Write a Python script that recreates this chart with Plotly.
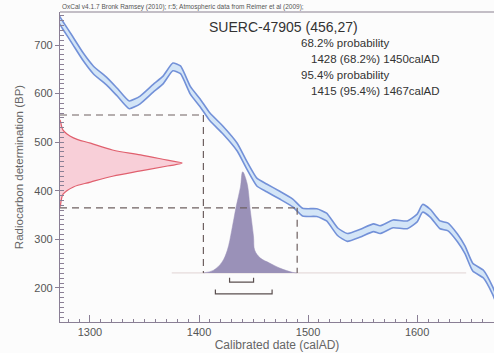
import plotly.graph_objects as go

# ---------------- data ----------------
# calibration curve (calAD, BP)
cal_year = [1272, 1275, 1284, 1294, 1303, 1316, 1325, 1336, 1346, 1358, 1367, 1376, 1383,
            1392, 1401, 1410, 1422, 1435, 1444, 1453, 1462, 1474, 1486, 1495, 1508, 1517,
            1527, 1536, 1548, 1560, 1566, 1578, 1591, 1600, 1605, 1612, 1621, 1628, 1637,
            1644, 1651, 1661, 1669, 1671]
cal_bp = [752, 741, 710, 675, 649, 624, 603, 577, 587, 611, 628, 655, 649,
          607, 581, 552, 525, 490, 452, 418, 406, 391, 375, 356, 355, 346,
          316, 304, 313, 324, 320, 332, 330, 344, 364, 354, 330, 326, 303,
          278, 243, 228, 196, 185]
cal_err = [8] * len(cal_year)

# measured radiocarbon date distribution (BP vs relative density)
rc_bp = [546, 525, 509, 498, 484, 474, 463, 457, 451, 441, 430, 418, 408, 393, 367]
rc_dens = [0.0, 0.025, 0.11, 0.25, 0.43, 0.66, 0.88, 1.0, 0.88, 0.66, 0.43, 0.25, 0.11, 0.025, 0.0]

# calibrated distribution (calAD vs relative probability)
post_year = [1404, 1413, 1421, 1426, 1430, 1434, 1438, 1440, 1444, 1447, 1450, 1451,
             1456, 1465, 1474, 1486, 1490]
post_prob = [0.0, 0.025, 0.106, 0.226, 0.423, 0.654, 0.851, 1.0, 0.889, 0.620, 0.356,
             0.226, 0.149, 0.096, 0.048, 0.005, 0.0]

range68 = [1428, 1450]
range95 = [1415, 1467]
dash_bp = [556, 365]
dash_year = [1404, 1490]

title_txt = "SUERC-47905 (456,27)"
info_lines = ["68.2% probability", "1428 (68.2%) 1450calAD",
              "95.4% probability", "1415 (95.4%) 1467calAD"]
header_txt = "OxCal v4.1.7 Bronk Ramsey (2010); r:5; Atmospheric data from Reimer et al (2009);"

# ---------------- figure ----------------
X0, X1 = 1272.5, 1670.5
Y0, Y1 = 130, 768
BASE = 231
POST_H = 208
RC_W = 112

fig = go.Figure()

# calibration band
upper = [b + e for b, e in zip(cal_bp, cal_err)]
lower = [b - e for b, e in zip(cal_bp, cal_err)]
fig.add_trace(go.Scatter(x=cal_year, y=upper, mode="lines",
                         line=dict(color="#7391d8", width=1.6, shape="spline", smoothing=0.5),
                         hoverinfo="skip"))
fig.add_trace(go.Scatter(x=cal_year, y=lower, mode="lines", fill="tonexty",
                         fillcolor="#d3e5f7",
                         line=dict(color="#7391d8", width=1.6, shape="spline", smoothing=0.5),
                         hoverinfo="skip"))

# faint baseline
fig.add_trace(go.Scatter(x=[1375, 1645], y=[BASE, BASE], mode="lines",
                         line=dict(color="#e0d4d4", width=1), hoverinfo="skip"))

# radiocarbon distribution on y axis
rc_x = [X0 + d * RC_W for d in rc_dens]
fig.add_trace(go.Scatter(x=rc_x + [X0], y=rc_bp + [rc_bp[0]], mode="lines",
                         fill="toself", fillcolor="#f8cfd8",
                         line=dict(color="#e0606e", width=1.2, shape="spline"),
                         hoverinfo="skip"))

# calibrated distribution
post_y = [BASE + p * POST_H for p in post_prob]
fig.add_trace(go.Scatter(x=post_year, y=post_y, mode="lines", fill="toself",
                         fillcolor="#9a91b8",
                         line=dict(color="#9a91b8", width=0.5, shape="spline"),
                         hoverinfo="skip"))

# dashed lines
dcol = "#6e6060"
dash = "7px,5px"
for bp, yr in zip(dash_bp, dash_year):
    fig.add_trace(go.Scatter(x=[X0, yr], y=[bp, bp], mode="lines",
                             line=dict(color=dcol, width=1.2, dash=dash), hoverinfo="skip"))
    fig.add_trace(go.Scatter(x=[yr, yr], y=[bp, BASE], mode="lines",
                             line=dict(color=dcol, width=1.2, dash=dash), hoverinfo="skip"))

# range brackets
bcol = "#5a4f4f"
for (a, b), yb, yt in [(range68, 212, 221), (range95, 188, 197)]:
    fig.add_trace(go.Scatter(x=[a, a, b, b], y=[yt, yb, yb, yt], mode="lines",
                             line=dict(color=bcol, width=1.2), hoverinfo="skip"))

# texts
tc = "#333333"
fig.add_annotation(x=1407.3, y=737, text=title_txt, showarrow=False, xanchor="left",
                   yanchor="middle", font=dict(size=14, color=tc, family="Liberation Sans"))
info_x = [1491.7, 1500.9, 1491.7, 1500.9]
info_y = [704, 671, 638, 605]
for t, xx, yy in zip(info_lines, info_x, info_y):
    fig.add_annotation(x=xx, y=yy, text=t, showarrow=False, xanchor="left", yanchor="middle",
                       font=dict(size=11.5, color=tc, family="Liberation Sans"))
fig.add_annotation(x=0, y=1, xref="paper", yref="paper", text=header_txt, showarrow=False,
                   xanchor="left", yanchor="bottom", yshift=-1,
                   font=dict(size=6.5, color="#555555", family="Liberation Sans"))

# top line
fig.add_shape(type="line", xref="paper", yref="paper", x0=0, x1=1, y0=1, y1=1,
              line=dict(color="#8a8090", width=1.2))

axcol = "#8a7f95"
fig.update_layout(
    width=494, height=353,
    margin=dict(l=60, r=0, t=12, b=31),
    paper_bgcolor="#fcfcfc", plot_bgcolor="#fcfcfc",
    showlegend=False,
    font=dict(family="Liberation Sans", color="#555555"),
    xaxis=dict(range=[X0, X1], showgrid=False, zeroline=False, showline=True,
               linecolor=axcol, linewidth=1.2, tickvals=[1300, 1400, 1500, 1600],
               ticks="inside", ticklen=7, tickcolor=axcol,
               minor=dict(dtick=10, ticks="inside", ticklen=3, tickcolor=axcol),
               tickfont=dict(size=11, color="#555555"),
               title=dict(text="Calibrated date (calAD)", font=dict(size=12, color="#666666"),
                          standoff=2)),
    yaxis=dict(range=[Y0, Y1], showgrid=False, zeroline=False, showline=True,
               linecolor=axcol, linewidth=1.2, tickvals=[200, 300, 400, 500, 600, 700],
               ticks="outside", ticklen=4, tickcolor=axcol,
               minor=dict(dtick=10, ticks="inside", ticklen=4, tickcolor=axcol),
               tickfont=dict(size=11, color="#555555"),
               title=dict(text="Radiocarbon determination (BP)",
                          font=dict(size=11.5, color="#666666"), standoff=8)),
)

fig.write_html("out.html", config={"displayModeBar": False},
               post_script="document.body.style.margin='0';document.body.style.overflow='hidden';")
